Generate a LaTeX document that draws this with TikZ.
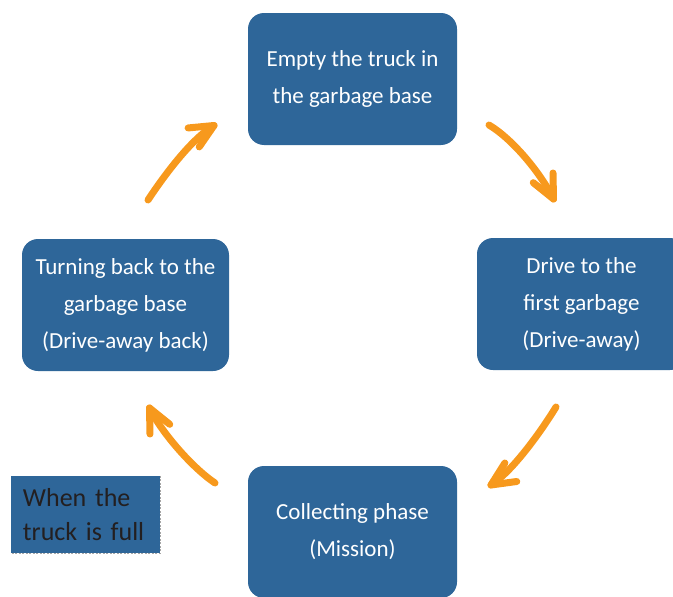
\documentclass[tikz,border=0pt]{standalone}
\usepackage{fontspec}
\setmainfont{Carlito}
\usetikzlibrary{calc}
\definecolor{boxblue}{RGB}{46,102,153}
\definecolor{arrorange}{RGB}{247,153,29}
\definecolor{notetext}{RGB}{35,31,32}
\definecolor{dashgray}{RGB}{165,165,165}
\begin{document}
\begin{tikzpicture}[x=1pt,y=-1pt,
  stage/.style={draw=none, fill=boxblue, rounded corners=16pt, minimum width=209pt,
    minimum height=132pt, align=center, text=white, inner sep=0pt,
    font=\fontsize{23}{37}\selectfont},
  notebox/.style={draw=none, fill=boxblue, minimum width=149pt, minimum height=77pt,
    text width=125pt, inner xsep=12pt, inner ysep=0pt, align=left, text=notetext,
    font=\fontsize{26}{34}\selectfont},
  flow/.style={draw=arrorange, line width=7pt, line cap=round, line join=round},
  noteedge/.style={draw=dashgray, line width=1pt, dash pattern=on 2pt off 1.5pt}]
\useasboundingbox (0,0) rectangle (673,597);

\node[stage] (empty) at (352.5,79) {Empty the truck in\\the garbage base};
\node[stage] (drive) at (581.5,304) {Drive to the\\first garbage\\(Drive-away)};
\node[stage] (collect) at (352.5,532) {Collecting phase\\(Mission)};
\node[stage, minimum width=207pt] (turn) at (125.5,305) {Turning back to the\\garbage base\\(Drive-away back)};

\node[notebox] (note) at (85.5,514.5) {When the\\truck is full};
\draw[noteedge] (note.north east) -- (note.south east) -- (note.south west);

% arrow empty -> drive
\coordinate (a1s) at (489,125);
\coordinate (a1c) at (513.5,139.7);
\coordinate (a1d) at (541.4,174.3);
\coordinate (a1t) at (553.5,199);
\draw[flow] (a1s) .. controls (a1c) and (a1d) .. (a1t);
\draw[flow] ($(a1t)!26pt!25:(a1d)$) -- (a1t) -- ($(a1t)!26pt!-25:(a1d)$);

% arrow drive -> collect
\coordinate (a2s) at (556,407);
\coordinate (a2c) at (541.5,430.7);
\coordinate (a2d) at (513.2,470.7);
\coordinate (a2t) at (491,485);
\draw[flow] (a2s) .. controls (a2c) and (a2d) .. (a2t);
\draw[flow] ($(a2t)!26pt!25:(a2d)$) -- (a2t) -- ($(a2t)!26pt!-25:(a2d)$);

% arrow collect -> turn
\coordinate (a3s) at (215,483);
\coordinate (a3c) at (192.4,467.8);
\coordinate (a3d) at (161.6,432.7);
\coordinate (a3t) at (149.5,408);
\draw[flow] (a3s) .. controls (a3c) and (a3d) .. (a3t);
\draw[flow] ($(a3t)!26pt!25:(a3d)$) -- (a3t) -- ($(a3t)!26pt!-25:(a3d)$);

% arrow turn -> empty
\coordinate (a4s) at (148,200);
\coordinate (a4c) at (163.3,176.8);
\coordinate (a4d) at (191,139);
\coordinate (a4t) at (214,125.5);
\draw[flow] (a4s) .. controls (a4c) and (a4d) .. (a4t);
\draw[flow] ($(a4t)!26pt!25:(a4d)$) -- (a4t) -- ($(a4t)!26pt!-25:(a4d)$);
\end{tikzpicture}
\end{document}
